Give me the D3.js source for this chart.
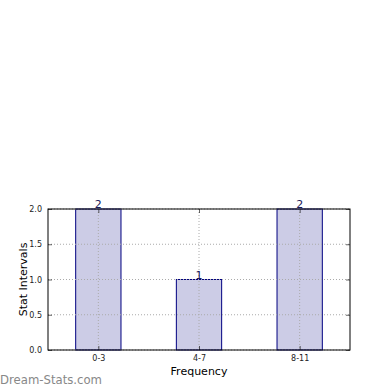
<!DOCTYPE html>
<html>
<head>
    <script src="https://d3js.org/d3.v7.min.js"></script>
    <style>
        body { margin: 0; background: #fff; }
        text { font-family: "DejaVu Sans", sans-serif; }
    </style>
</head>
<body>
    <div id="chart"></div>
    <script>
        // data
        const categories = ["0-3", "4-7", "8-11"];
        const counts = [2, 1, 2];
        const yTicks = [0, 0.5, 1.0, 1.5, 2.0];

        const width = 390, height = 390;
        const margin = { top: 209, right: 40, bottom: 40, left: 48 };
        const w = width - margin.left - margin.right;
        const h = height - margin.top - margin.bottom;

        const svg = d3.select("#chart").append("svg")
            .attr("width", width)
            .attr("height", height);

        const g = svg.append("g")
            .attr("transform", `translate(${margin.left},${margin.top})`);

        const x = d3.scaleLinear().domain([-0.5, categories.length - 0.5]).range([0, w]);
        const y = d3.scaleLinear().domain([0, 2]).range([h, 0]);
        const barW = 0.45;

        // bars
        g.selectAll(".bar").data(counts).enter().append("rect")
            .attr("x", (d, i) => x(i - barW / 2))
            .attr("width", x(barW) - x(0))
            .attr("y", d => y(d))
            .attr("height", d => h - y(d))
            .attr("fill", "rgba(0,0,128,0.2)")
            .attr("stroke", "#000080")
            .attr("stroke-width", 1);

        // dotted grid drawn over the bars
        g.selectAll(".vgrid").data(categories).enter().append("line")
            .attr("x1", (d, i) => x(i)).attr("x2", (d, i) => x(i))
            .attr("y1", 0).attr("y2", h)
            .attr("stroke", "#aaa").attr("stroke-dasharray", "1,2").attr("stroke-width", 1);
        g.selectAll(".hgrid").data(yTicks).enter().append("line")
            .attr("x1", 0).attr("x2", w)
            .attr("y1", d => y(d)).attr("y2", d => y(d))
            .attr("stroke", "#aaa").attr("stroke-dasharray", "1,2").attr("stroke-width", 1);

        // value labels
        g.selectAll(".val").data(counts).enter().append("text")
            .attr("x", (d, i) => x(i))
            .attr("y", d => y(d) - 1)
            .attr("text-anchor", "middle")
            .attr("font-size", 11)
            .attr("fill", "#1a1a5a")
            .text(d => d);

        // axes with inward ticks
        const yAxis = d3.axisLeft(y).tickValues(yTicks).tickSize(-4).tickPadding(6)
            .tickFormat(d3.format(".1f"));
        const xAxis = d3.axisBottom(x).tickValues(d3.range(categories.length)).tickSize(-4).tickPadding(5)
            .tickFormat(i => categories[i]);

        const ya = g.append("g").call(yAxis);
        const xa = g.append("g").attr("transform", `translate(0,${h})`).call(xAxis);
        g.append("g").attr("transform", `translate(${w},0)`)
            .call(d3.axisRight(y).tickValues(yTicks).tickSize(-4).tickFormat(""));
        g.append("g")
            .call(d3.axisTop(x).tickValues(d3.range(categories.length)).tickSize(-4).tickFormat(""));

        g.selectAll(".domain").remove();
        g.selectAll(".tick line").attr("stroke", "#000").attr("stroke-width", 0.6);
        ya.selectAll("text").attr("font-size", 8).attr("fill", "#222");
        xa.selectAll("text").attr("font-size", 8).attr("fill", "#222");

        // frame
        g.append("rect").attr("width", w).attr("height", h)
            .attr("fill", "none").attr("stroke", "#000").attr("stroke-width", 1);

        // axis labels
        g.append("text")
            .attr("x", w / 2).attr("y", h + 25)
            .attr("text-anchor", "middle").attr("font-size", 11)
            .text("Frequency");
        g.append("text")
            .attr("transform", "rotate(-90)")
            .attr("x", -h / 2).attr("y", -21)
            .attr("text-anchor", "middle").attr("font-size", 11)
            .text("Stat Intervals");

        // watermark
        svg.append("text")
            .attr("x", 0).attr("y", 384)
            .attr("font-family", "'Liberation Sans', sans-serif")
            .attr("font-size", 13)
            .attr("textLength", 102)
            .attr("lengthAdjust", "spacingAndGlyphs")
            .attr("fill", "#888")
            .text("Dream-Stats.com");
    </script>
</body>
</html>
